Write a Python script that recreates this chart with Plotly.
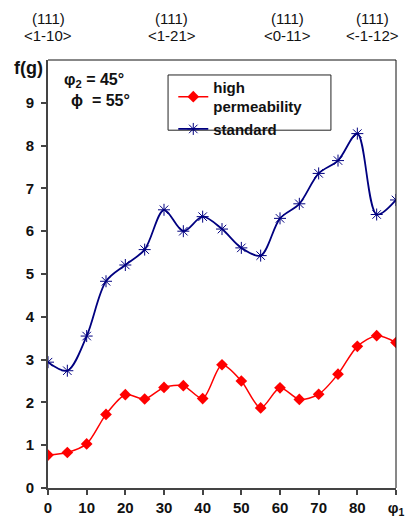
import plotly.graph_objects as go

phi1 = [0, 5, 10, 15, 20, 25, 30, 35, 40, 45, 50, 55, 60, 65, 70, 75, 80, 85, 90]
high_perm = [0.77, 0.83, 1.03, 1.72, 2.18, 2.08, 2.35, 2.39, 2.09, 2.88, 2.50, 1.87,
             2.34, 2.07, 2.19, 2.66, 3.31, 3.56, 3.40]
standard = [2.94, 2.74, 3.55, 4.83, 5.21, 5.57, 6.50, 6.00, 6.34, 6.05, 5.61, 5.43,
            6.30, 6.64, 7.35, 7.65, 8.28, 6.39, 6.73]
x_ticks = [0, 10, 20, 30, 40, 50, 60, 70, 80, 90]
x_ticktext = ["0", "10", "20", "30", "40", "50", "60", "70", "80", "φ<sub>1</sub>"]
y_ticks = [0, 1, 2, 3, 4, 5, 6, 7, 8, 9]
orient_x = [0, 32, 62, 84]
orient_planes = ["(111)", "(111)", "(111)", "(111)"]
orient_dirs = ["&lt;1-10&gt;", "&lt;1-21&gt;", "&lt;0-11&gt;", "&lt;-1-12&gt;"]

FONT = "Liberation Sans, Arial, sans-serif"

fig = go.Figure()
fig.add_trace(go.Scatter(
    x=phi1, y=high_perm, name="high<br>permeability", mode="lines+markers",
    line=dict(color="#ff0000", width=1.5, shape="spline", smoothing=0.8),
    marker=dict(symbol="diamond", size=9, color="#ff0000"),
))
fig.add_trace(go.Scatter(
    x=phi1, y=standard, name="standard", mode="lines+markers",
    line=dict(color="#000080", width=1.8, shape="spline", smoothing=0.9),
    marker=dict(symbol="asterisk-open", size=10, color="#000080",
                line=dict(color="#000080", width=1)),
))

for xv, p, d in zip(orient_x, orient_planes, orient_dirs):
    fig.add_annotation(x=xv, xref="x", y=1.098, yref="paper", text=p,
                       showarrow=False, xanchor="center", yanchor="middle",
                       font=dict(family=FONT, size=15, color="#111"))
    fig.add_annotation(x=xv, xref="x", y=1.058, yref="paper", text=d,
                       showarrow=False, xanchor="center", yanchor="middle",
                       font=dict(family=FONT, size=15, color="#111"))

fig.add_annotation(x=-0.057, xref="paper", y=0.981, yref="paper", text="f(g)",
                   showarrow=False, xanchor="center", yanchor="middle",
                   font=dict(family=FONT, size=18, color="#111", weight="bold"))
fig.add_annotation(x=0.040, xref="paper", y=0.951, yref="paper",
                   text="φ<sub>2</sub> = 45°", showarrow=False,
                   xanchor="left", yanchor="middle",
                   font=dict(family=FONT, size=16, color="#111", weight="bold"))
fig.add_annotation(x=0.060, xref="paper", y=0.905, yref="paper",
                   text="ϕ  = 55°", showarrow=False,
                   xanchor="left", yanchor="middle",
                   font=dict(family=FONT, size=16, color="#111", weight="bold"))

# legend frame
fig.add_shape(type="rect", xref="paper", yref="paper",
              x0=0.345, x1=0.813, y0=0.836, y1=0.965,
              line=dict(color="#222", width=1), fillcolor="rgba(0,0,0,0)")
# top and right frame
fig.add_shape(type="line", xref="paper", yref="paper", x0=0, x1=1, y0=1, y1=1,
              line=dict(color="#111", width=1))
fig.add_shape(type="line", xref="paper", yref="paper", x0=1, x1=1, y0=0, y1=1,
              line=dict(color="#111", width=1))

fig.update_layout(
    width=409, height=517,
    margin=dict(l=48, r=13, t=60, b=29, autoexpand=False),
    paper_bgcolor="white", plot_bgcolor="white",
    font=dict(family=FONT, color="#111"),
    showlegend=True,
    legend=dict(x=0.36, y=0.975, xanchor="left", yanchor="top",
                bgcolor="rgba(0,0,0,0)", borderwidth=0,
                font=dict(family=FONT, size=15, color="#111", weight="bold"),
                itemwidth=30, tracegroupgap=0),
    xaxis=dict(range=[0, 90], tickvals=x_ticks, ticktext=x_ticktext,
               showgrid=False, zeroline=False, showline=True, automargin=False,
               linecolor="#444", linewidth=2, ticks="outside", ticklen=5,
               tickcolor="#444", tickwidth=1.5, ticklabelstandoff=0,
               tickfont=dict(family=FONT, size=15, color="#111", weight="bold")),
    yaxis=dict(range=[0, 10], tickvals=y_ticks,
               showgrid=False, zeroline=False, showline=True, automargin=False,
               linecolor="#444", linewidth=2, ticks="outside", ticklen=5,
               tickcolor="#444", tickwidth=1.5, ticklabelstandoff=4,
               tickfont=dict(family=FONT, size=15, color="#111", weight="bold")),
)

fig.write_html("out.html")
